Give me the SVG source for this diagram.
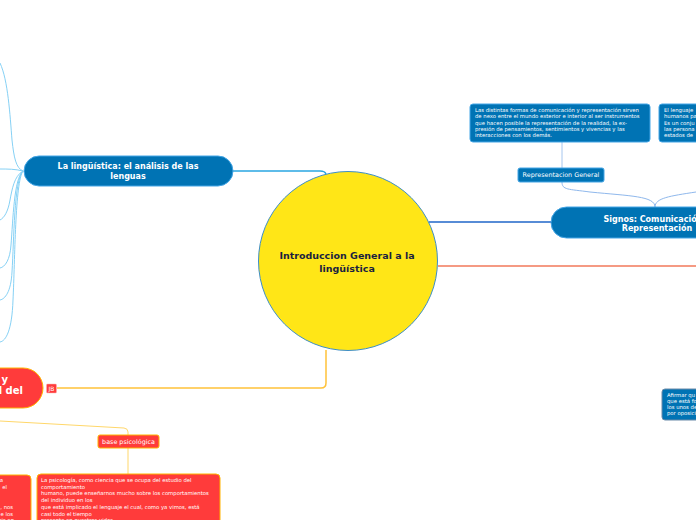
<svg xmlns="http://www.w3.org/2000/svg" width="696" height="520" viewBox="0 0 696 520">
<style>
.bn{fill:#0073B4;stroke:#45a6e6;stroke-width:1}
.rn{fill:#FF3B3B;stroke:#FFB400;stroke-width:1}
.t{font-family:"DejaVu Sans",Verdana,sans-serif;fill:#ffffff}
.b{font-weight:bold;font-size:8px}
.s{font-size:5.3px}
.lb{fill:none;stroke:#86d1f5;stroke-width:1}
</style>
<rect width="696" height="520" fill="#ffffff"/>
<g id="connectors" fill="none">
<path class="lb" d="M23,171 C16,168 14,158 12,140 C10,115 8,80 0,63"/>
<path class="lb" d="M23,171 C15,169 8,169 0,169"/>
<path class="lb" d="M23,171 C14,176 12,190 10,200 C8,212 4,218 0,220"/>
<path class="lb" d="M23,171 C14,178 13,220 11,245 C10,260 5,267 0,268"/>
<path class="lb" d="M23,171 C14,180 14,240 12,272 C11,292 5,299 0,300"/>
<path class="lb" d="M23,171 C15,182 15,260 13,300 C12,330 6,341 0,342"/>
<path d="M233,171 L320,171 Q325,171 326,174" stroke="#2aa7e2" stroke-width="1.5"/>
<path d="M429,222 L551,222" stroke="#1f66c8" stroke-width="1.5"/>
<path d="M438,266 L696,266" stroke="#F2785A" stroke-width="1.5"/>
<path d="M57,388 L321,388 Q326,388 326,383 L326,350" stroke="#FFC23A" stroke-width="1.5"/>
<path d="M0,421 L124,428 Q128,428.5 128,432 L128,435" stroke="#FFD76A" stroke-width="1"/>
<path d="M128,448 L128,474" stroke="#FFD76A" stroke-width="1"/>
<path d="M562,142 L562,168" stroke="#a6c6ee" stroke-width="1"/>
<path d="M562,182 C562,190 568,189 590,192 C630,196 655,196 655,207" stroke="#8fb8ec" stroke-width="1"/>
<path d="M655,207 C655,198 670,196 696,192" stroke="#8fb8ec" stroke-width="1"/>
</g>
<g id="center">
<circle cx="348" cy="261" r="89.5" fill="#FFE617" stroke="#3d8ec9" stroke-width="1"/>
<text x="347" y="259" text-anchor="middle" font-family="DejaVu Sans,Verdana,sans-serif" font-weight="bold" font-size="9.5" fill="#1b1f3f">Introduccion General a la</text>
<text x="347" y="271.5" text-anchor="middle" font-family="DejaVu Sans,Verdana,sans-serif" font-weight="bold" font-size="9.5" fill="#1b1f3f">lingüística</text>
</g>
<g id="linguistica">
<rect class="bn" x="24" y="156" width="209" height="30" rx="15"/>
<text class="t b" x="128" y="169" text-anchor="middle">La lingüística: el análisis de las</text>
<text class="t b" x="128" y="178.5" text-anchor="middle">lenguas</text>
</g>
<g id="signos">
<rect class="bn" x="551" y="207" width="212" height="31" rx="15.5"/>
<text class="t b" x="657" y="221.5" text-anchor="middle">Signos: Comunicación y</text>
<text class="t b" x="657" y="231" text-anchor="middle">Representación</text>
</g>
<g id="repgeneral">
<rect class="bn" x="518" y="168" width="86" height="14" rx="2"/>
<text class="t" x="561" y="177.3" text-anchor="middle" font-size="6.4">Representacion General</text>
</g>
<g id="textbox1">
<rect class="bn" x="470" y="104" width="180" height="38" rx="3"/>
<text class="t s" x="475" y="112">Las distintas formas de comunicación y representación sirven</text>
<text class="t s" x="475" y="118.3">de nexo entre el mundo exterior e interior al ser instrumentos</text>
<text class="t s" x="475" y="124.6">que hacen posible la representación de la realidad, la ex-</text>
<text class="t s" x="475" y="130.9">presión de pensamientos, sentimientos y vivencias y las</text>
<text class="t s" x="475" y="137.2">interacciones con los demás.</text>
</g>
<g id="textbox2">
<rect class="bn" x="659" y="104" width="80" height="38" rx="3"/>
<text class="t s" x="664" y="112">El lenguaje</text>
<text class="t s" x="664" y="118.3">humanos pa</text>
<text class="t s" x="664" y="124.6">Es un conju</text>
<text class="t s" x="664" y="130.9">las persona</text>
<text class="t s" x="664" y="137.2">estados de</text>
</g>
<g id="textbox3">
<rect x="662" y="389" width="80" height="31" rx="3" fill="#0073B4" stroke="#6a8aa8" stroke-width="1"/>
<text class="t s" x="667" y="396.5">Afirmar qu</text>
<text class="t s" x="667" y="402.8">que está fo</text>
<text class="t s" x="667" y="409.1">los unos de</text>
<text class="t s" x="667" y="415.4">por oposici</text>
</g>
<g id="rednode">
<rect class="rn" x="-150" y="368" width="193" height="40" rx="20"/>
<text class="t" x="8" y="383" text-anchor="end" font-size="10" font-weight="bold">s y</text>
<text class="t" x="23" y="394" text-anchor="end" font-size="10" font-weight="bold">d del</text>
</g>
<g id="jb">
<rect x="46.5" y="384" width="10" height="9" rx="1" fill="#FF3B3B" stroke="#ffb0b0" stroke-width="0.5"/>
<text class="t" x="51.5" y="391" text-anchor="middle" font-size="6">JB</text>
</g>
<g id="basepsico">
<rect class="rn" x="98" y="435" width="61" height="13" rx="2"/>
<text class="t" x="128.5" y="444" text-anchor="middle" font-size="6.4">base psicológica</text>
</g>
<g id="psicobox">
<rect class="rn" x="37" y="474" width="183" height="60" rx="4"/>
<text class="t s" x="41" y="482">La psicología, como ciencia que se ocupa del estudio del</text>
<text class="t s" x="41" y="488.7">comportamiento</text>
<text class="t s" x="41" y="495.4">humano, puede enseñarnos mucho sobre los comportamientos</text>
<text class="t s" x="41" y="502.1">del individuo en los</text>
<text class="t s" x="41" y="508.8">que está implicado el lenguaje el cual, como ya vimos, está</text>
<text class="t s" x="41" y="515.5">casi todo el tiempo</text>
<text class="t s" x="41" y="522.2">presente en nuestras vidas.</text>
</g>
<g id="leftbox">
<rect class="rn" x="-120" y="475" width="151" height="60" rx="4"/>
<text class="t s" x="3" y="482" text-anchor="end">a</text>
<text class="t s" x="7" y="488.7" text-anchor="end">el</text>
<text class="t s" x="13" y="508.8" text-anchor="end">, nos</text>
<text class="t s" x="13" y="515.5" text-anchor="end">e los</text>
<text class="t s" x="14" y="522.2" text-anchor="end">ris en</text>
</g>
</svg>
